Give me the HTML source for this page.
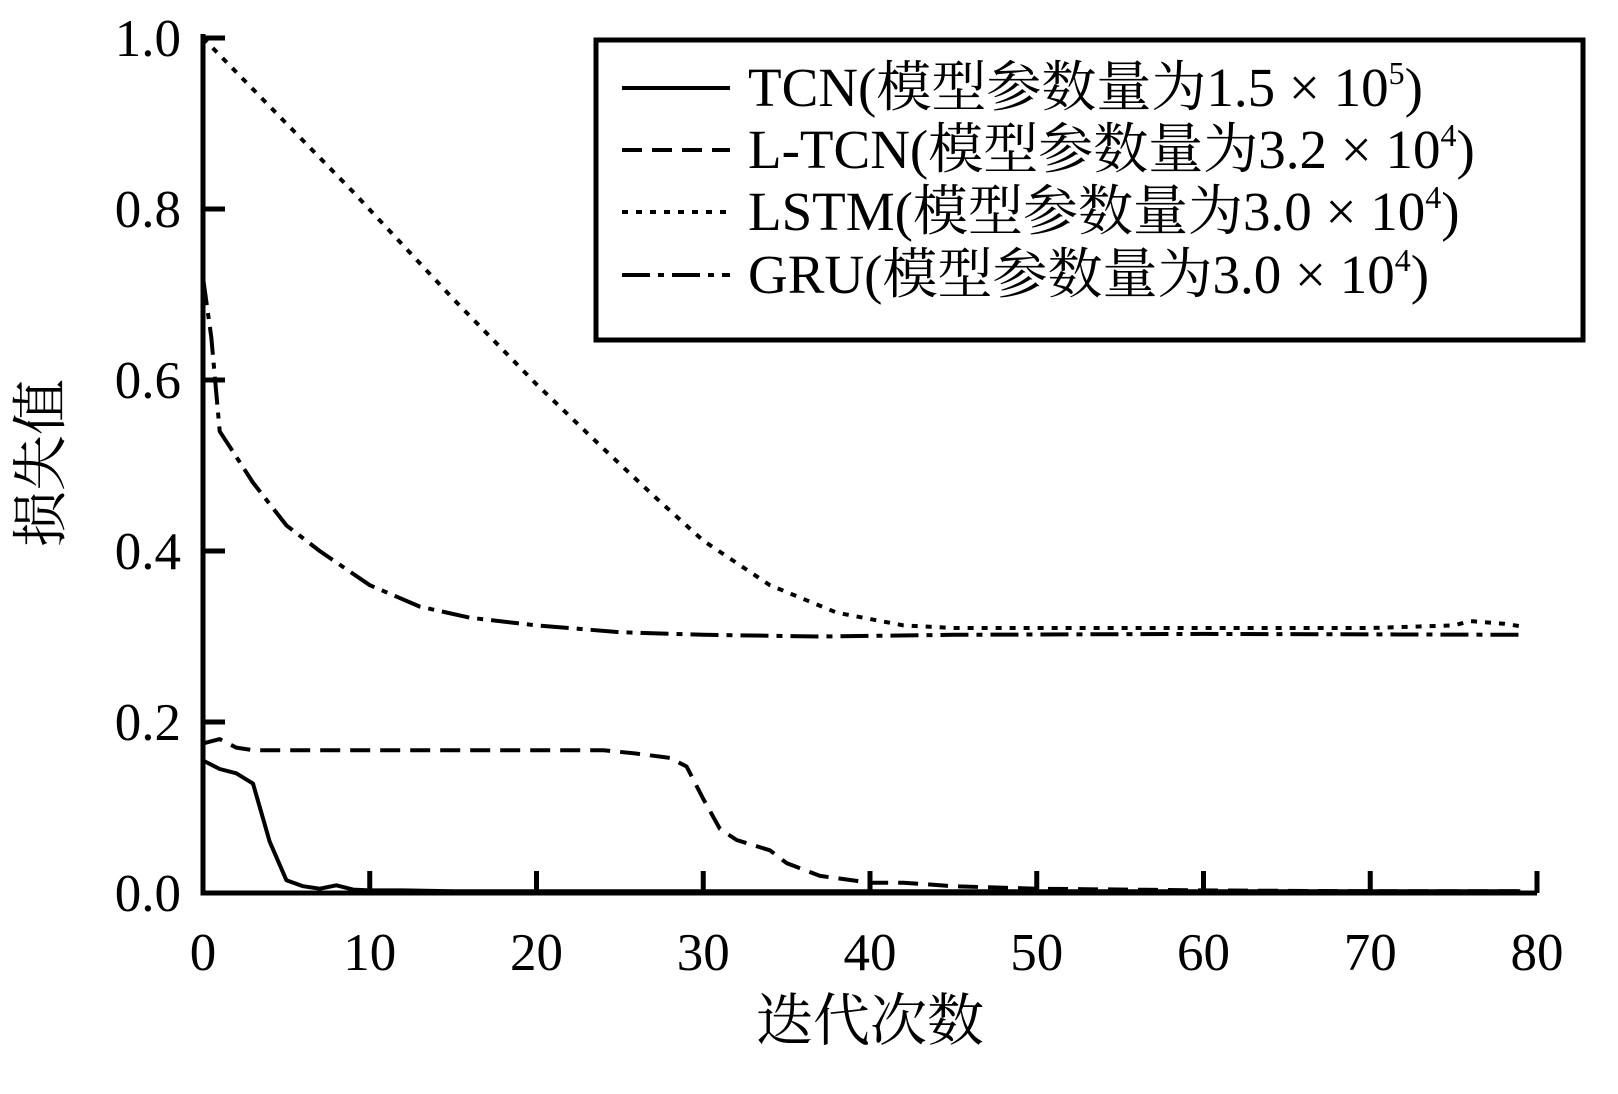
<!DOCTYPE html>
<html><head><meta charset="utf-8"><style>
body{margin:0;background:#fff}
svg{display:block;font-family:"Liberation Serif","Noto Serif CJK SC",serif}
</style></head><body>
<svg width="1618" height="1094" viewBox="0 0 1618 1094">
<g id="plot"></g>
<rect x="596" y="40" width="987" height="300" fill="#fff" stroke="#000" stroke-width="5"/>
<g font-size="55">
<line x1="622" y1="88" x2="730" y2="88" stroke="#000" stroke-width="4"/>
<text x="748" y="106">TCN(模型参数量为1.5 × 10<tspan dy="-22" font-size="32">5</tspan><tspan dy="22">)</tspan></text>
<line x1="622" y1="150" x2="730" y2="150" stroke="#000" stroke-width="4" stroke-dasharray="20,10"/>
<text x="748" y="168">L-TCN(模型参数量为3.2 × 10<tspan dy="-22" font-size="32">4</tspan><tspan dy="22">)</tspan></text>
<line x1="622" y1="212" x2="730" y2="212" stroke="#000" stroke-width="4" stroke-dasharray="6,8"/>
<text x="748" y="230">LSTM(模型参数量为3.0 × 10<tspan dy="-22" font-size="32">4</tspan><tspan dy="22">)</tspan></text>
<line x1="622" y1="275" x2="730" y2="275" stroke="#000" stroke-width="4" stroke-dasharray="28,8,6,8"/>
<text x="748" y="293">GRU(模型参数量为3.0 × 10<tspan dy="-22" font-size="32">4</tspan><tspan dy="22">)</tspan></text>
</g>
<text x="870" y="1040" font-size="57" text-anchor="middle">迭代次数</text>
<text transform="translate(60,463) rotate(-90)" font-size="56" text-anchor="middle">损失值</text>
</svg>
<script>
const xTicks=[0,10,20,30,40,50,60,70,80];
const yTicks=[0,0.2,0.4,0.6,0.8,1.0];
const tcnX=[0,1,2,3,4,5,6,7,8,9,10,12,15,20,30,40,50,60,70,79];
const tcnY=[0.155,0.145,0.14,0.128,0.06,0.015,0.008,0.005,0.009,0.004,0.003,0.003,0.002,0.002,0.002,0.002,0.002,0.002,0.002,0.002];
const ltcnX=[0,1,2,3,10,20,24,26,28,29,30,31,32,34,35,37,40,42,45,50,60,70,79];
const ltcnY=[0.175,0.18,0.17,0.167,0.167,0.167,0.167,0.163,0.158,0.148,0.11,0.075,0.062,0.05,0.035,0.02,0.012,0.012,0.008,0.005,0.003,0.002,0.002];
const lstmX=[0,4,9,15,20,24,27,30,34,38,42,45,50,60,70,75,76,78,79];
const lstmY=[1.0,0.92,0.82,0.695,0.595,0.52,0.465,0.412,0.36,0.328,0.313,0.31,0.31,0.31,0.31,0.313,0.318,0.315,0.312];
const gruX=[0,0.5,1,3,5,7,10,13,16,20,25,30,37,45,60,79];
const gruY=[0.72,0.65,0.54,0.48,0.43,0.4,0.36,0.335,0.322,0.313,0.305,0.302,0.3,0.302,0.303,0.302];
const X0=203,X1=1537,Y0=893,Y1=38;
const sx=v=>X0+(v-0)/(80-0)*(X1-X0);
const sy=v=>Y0-(v-0)/(1-0)*(Y0-Y1);
const NS="http://www.w3.org/2000/svg";
const g=document.getElementById('plot');
function mk(t,a){const e=document.createElementNS(NS,t);for(const k in a)e.setAttribute(k,a[k]);g.appendChild(e);return e;}
function series(xs,ys,dash,name){
  const d=xs.map((x,i)=>(i?'L':'M')+sx(x).toFixed(1)+','+sy(ys[i]).toFixed(1)).join('');
  const p=mk('path',{d:d,fill:'none',stroke:'#000','stroke-width':4,'stroke-dasharray':dash,'stroke-linejoin':'round'});
  
  
}
series(lstmX,lstmY,'6,8','lstm-line');
series(gruX,gruY,'28,8,6,8','gru-line');
series(ltcnX,ltcnY,'20,10','ltcn-line');
series(tcnX,tcnY,'none','tcn-line');
const ax=mk('path',{d:`M${X0},${Y1-4}L${X0},${Y0}L${X1},${Y0}`,fill:'none',stroke:'#000','stroke-width':5});


xTicks.forEach(t=>{
  const l=mk('line',{x1:sx(t),x2:sx(t),y1:Y0,y2:Y0-22,stroke:'#000','stroke-width':5});
  
  
  const tx=mk('text',{x:sx(t),y:Y0+77,'font-size':53,'text-anchor':'middle'});
  tx.textContent=t;
  
  
});
yTicks.forEach(t=>{
  const l=mk('line',{x1:X0,x2:X0+22,y1:sy(t),y2:sy(t),stroke:'#000','stroke-width':5});
  
  
  const tx=mk('text',{x:X0-22,y:sy(t)+18,'font-size':53,'text-anchor':'end'});
  tx.textContent=t.toFixed(1);
  
  
});
</script>
</body></html>
